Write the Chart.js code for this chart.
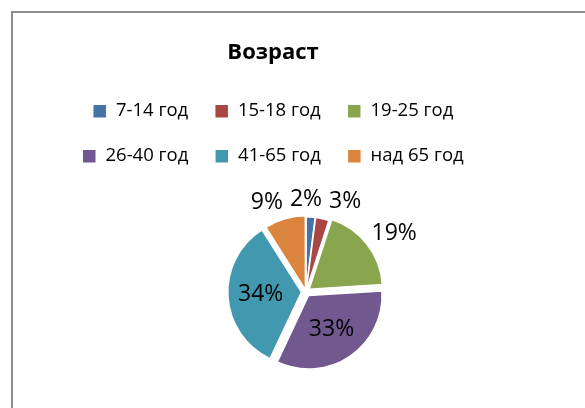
<!DOCTYPE html>
<html>
<head>
<meta charset="utf-8">
<script src="https://cdn.jsdelivr.net/npm/chart.js@4"></script>
<style>
  body { margin: 0; background: #fff; }
  .wrap { position: relative; width: 585px; height: 408px; overflow: hidden; }
  .frame { position: absolute; left: 11px; top: 11px; width: 620px; height: 440px; border: 2px solid #8c8c8c; }
  canvas { position: absolute; left: 0; top: 0; }
</style>
</head>
<body>
<div class="wrap">
  <div class="frame"></div>
  <canvas id="ageChart" width="585" height="408"></canvas>
</div>
<script>
// Data
const ageGroups = ['7-14 год', '15-18 год', '19-25 год', '26-40 год', '41-65 год', 'над 65 год'];
const sharePercent = [2, 3, 19, 33, 34, 9];
const sliceColors = ['#4572A7', '#AA4643', '#89A54E', '#71588F', '#4198AF', '#DB843D'];
const sliceOffsets = [4, 4, 16, 18, 18, 8];

const FONT = '"Open Sans", "Noto Sans", sans-serif';

// moves the plot area sideways, title and legend stay centered
const plotShift = {
    id: 'plotShift',
    afterLayout(chart, args, opts) {
        const a = chart.chartArea;
        a.left += opts.x;
        a.right += opts.x;
    }
};

// percentage labels, inside for big slices, outside for small ones
const pieLabels = {
    id: 'pieLabels',
    afterDatasetsDraw(chart) {
        const ctx = chart.ctx;
        const meta = chart.getDatasetMeta(0);
        const ds = chart.data.datasets[0];
        ctx.save();
        ctx.font = '23px ' + FONT;
        ctx.fillStyle = '#000';
        ctx.textAlign = 'center';
        ctx.textBaseline = 'middle';
        const outside = [];
        meta.data.forEach(function(arc, i) {
            const p = arc.getProps(['x', 'y', 'startAngle', 'endAngle', 'outerRadius'], true);
            const mid = (p.startAngle + p.endAngle) / 2;
            const shift = (ds.offset[i] || 0) / 4;
            const cos = Math.cos(mid), sin = Math.sin(mid);
            const text = ds.data[i] + '%';
            const w = ctx.measureText(text).width;
            if (ds.data[i] >= 25) {
                const r = p.outerRadius * 0.56 + shift;
                ctx.fillText(text, p.x + cos * r, p.y + sin * r);
            } else {
                const r = p.outerRadius + shift + 12;
                outside.push({ text: text, w: w, x: p.x + cos * r + cos * w / 2, y: p.y + sin * r + sin * 6 });
            }
        });
        // push overlapping labels apart
        for (let pass = 0; pass < 30; pass++) {
            for (let a = 0; a < outside.length; a++) {
                for (let b = a + 1; b < outside.length; b++) {
                    const la = outside[a], lb = outside[b];
                    if (Math.abs(la.y - lb.y) > 20) continue;
                    const need = (la.w + lb.w) / 2 + 7;
                    const dx = lb.x - la.x;
                    if (Math.abs(dx) < need) {
                        const push = (need - Math.abs(dx)) / 2 * (dx >= 0 ? 1 : -1);
                        la.x -= push;
                        lb.x += push;
                    }
                }
            }
        }
        outside.forEach(function(l) {
            ctx.fillText(l.text, l.x, l.y);
        });
        ctx.restore();
    }
};

document.addEventListener('DOMContentLoaded', function() {
    const ctx = document.getElementById('ageChart').getContext('2d');
    new Chart(ctx, {
        type: 'pie',
        data: {
            labels: ageGroups,
            datasets: [{
                data: sharePercent,
                backgroundColor: sliceColors,
                borderColor: '#fff',
                borderWidth: 1.5,
                offset: sliceOffsets,
                radius: 73
            }]
        },
        options: {
            responsive: false,
            animation: false,
            devicePixelRatio: 1,
            layout: {
                padding: { top: 14, left: 40, right: 79, bottom: 0 }
            },
            plugins: {
                plotShift: { x: 33 },
                title: {
                    display: true,
                    text: 'Возраст',
                    color: '#000',
                    font: { family: FONT, size: 22, weight: 'bold' },
                    padding: { top: 26, bottom: 9 }
                },
                legend: {
                    position: 'top',
                    labels: {
                        color: '#000',
                        font: { family: FONT, size: 18.5 },
                        boxWidth: 14,
                        boxHeight: 14,
                        padding: 26.5
                    }
                },
                tooltip: { enabled: false }
            }
        },
        plugins: [plotShift, pieLabels]
    });
});
</script>
</body>
</html>
